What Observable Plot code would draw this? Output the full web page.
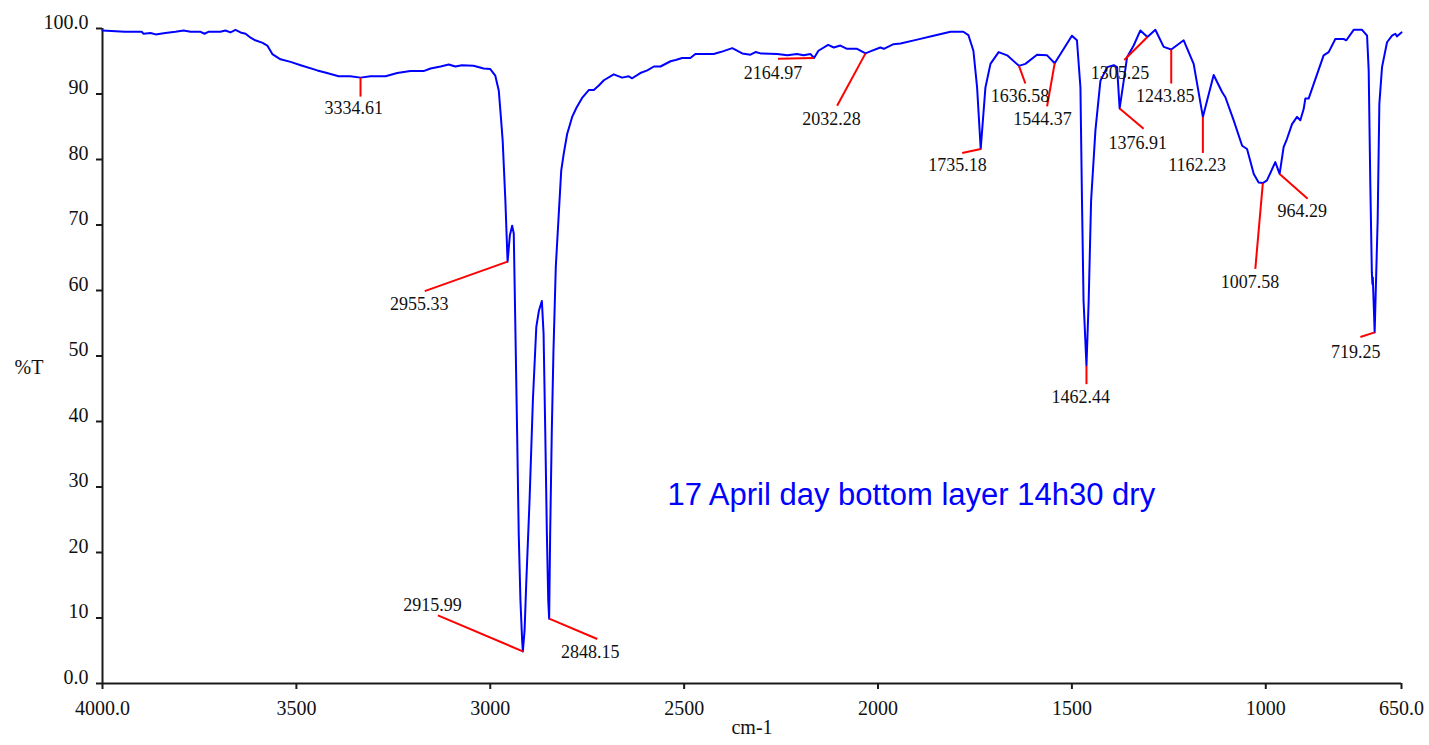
<!DOCTYPE html>
<html>
<head>
<meta charset="utf-8">
<script src="https://cdn.jsdelivr.net/npm/d3@7"></script>
<script src="https://cdn.jsdelivr.net/npm/@observablehq/plot@0.6"></script>
<style>
  html, body { margin: 0; padding: 0; background: #fff; }
</style>
</head>
<body>
<div id="chart"></div>
<script>
// FTIR spectrum: wavenumber (cm-1) and transmittance (%T)
const wavenumber = [
  4000, 3943, 3899, 3894, 3876, 3863, 3838, 3812, 3791, 3773, 3747, 3737, 3727, 3696, 3683, 3670, 3657, 3644, 3631, 3618,
  3606, 3587, 3575, 3562, 3541, 3515, 3489, 3446, 3421, 3391, 3361, 3334.61, 3309, 3270, 3240, 3206, 3172, 3154, 3128, 3107,
  3090, 3073, 3043, 3017, 3000, 2987, 2978, 2972, 2968, 2961, 2958, 2955.33, 2949.5, 2943.6, 2939.4, 2935, 2930.7, 2926.6, 2922.2, 2917.8,
  2915.99, 2911.5, 2907.2, 2898.7, 2890.1, 2881.3, 2874.6, 2866.9, 2862.5, 2858.1, 2854, 2850.5, 2848.15, 2845.5, 2841.4, 2837, 2831, 2824, 2817, 2810.5,
  2801.7, 2788.8, 2777.7, 2763.1, 2746, 2733, 2720, 2707, 2681.5, 2660, 2643, 2634, 2613, 2595, 2578, 2561, 2535, 2522, 2505, 2484,
  2471, 2458, 2424, 2406, 2376, 2350, 2329, 2316, 2303, 2260, 2234, 2209, 2192, 2174, 2164.97, 2153.7, 2128.7, 2114, 2097, 2080,
  2054, 2032.28, 2020, 1994, 1985, 1960, 1942, 1899, 1857, 1813, 1780, 1767, 1754, 1744.5, 1735.18, 1723, 1710, 1689, 1667, 1636.58,
  1620, 1590, 1564, 1544.37, 1500, 1487, 1478, 1474, 1470, 1462.44, 1456.7, 1450.5, 1439.4, 1426.5, 1409, 1392, 1383.5, 1376.91, 1366.4, 1357.8,
  1340.7, 1323.4, 1305.25, 1284.8, 1263.3, 1243.85, 1211.7, 1186, 1162.23, 1134.4, 1112.7, 1104.2, 1083, 1061, 1048.3, 1031, 1018.4, 1007.58, 997, 975.5,
  964.29, 954, 945, 932.3, 919.4, 910.9, 902.3, 898, 889.5, 876.6, 850.8, 837.8, 820.6, 799.1, 792.2, 773.3, 751.7, 738.8, 734.6, 730.3,
  726.5, 725, 724, 719.25, 711.5, 707.1, 700.2, 687.3, 674.4, 665.9, 661.5, 650
];
const transmittance = [
  99.7, 99.5, 99.5, 99.2, 99.3, 99.1, 99.3, 99.5, 99.7, 99.5, 99.5, 99.2, 99.5, 99.5, 99.7, 99.4, 99.8, 99.4, 99.2, 98.6,
  98.2, 97.8, 97.4, 96.1, 95.3, 94.9, 94.4, 93.6, 93.2, 92.7, 92.7, 92.5, 92.7, 92.7, 93.2, 93.5, 93.5, 93.9, 94.2, 94.5,
  94.2, 94.4, 94.3, 93.9, 93.8, 92.8, 90.5, 86.0, 82.9, 73.7, 68.7, 64.4, 68.4, 69.9, 68.7, 53.4, 38.2, 22.9, 12.7, 6.6,
  4.9, 8.1, 15.3, 27.9, 43.2, 54.4, 56.9, 58.4, 53.4, 38.2, 22.9, 12.7, 9.9, 22.9, 38.2, 50.8, 63.6, 71.0, 78.3, 80.9,
  83.9, 86.5, 87.9, 89.4, 90.6, 90.6, 91.3, 92.1, 93.0, 92.5, 92.7, 92.4, 93.2, 93.6, 94.2, 94.2, 95.0, 95.2, 95.5, 95.5,
  96.1, 96.1, 96.1, 96.4, 97.0, 96.2, 96.0, 96.4, 96.2, 96.1, 95.9, 96.1, 95.9, 96.1, 95.5, 96.6, 97.5, 97.1, 97.4, 96.9,
  96.9, 96.2, 96.5, 97.1, 96.9, 97.6, 97.7, 98.3, 98.9, 99.5, 99.5, 99.0, 96.6, 91.0, 81.6, 91.0, 94.6, 96.4, 95.9, 94.3,
  94.6, 96.0, 95.9, 94.7, 98.9, 98.2, 91.0, 73.7, 58.5, 48.5, 58.5, 73.7, 84.4, 92.0, 94.1, 94.4, 94.1, 87.8, 92.0, 95.6,
  97.4, 99.7, 98.7, 99.8, 97.2, 96.8, 98.2, 94.6, 86.5, 92.9, 90.3, 89.5, 86.0, 82.1, 81.6, 77.8, 76.5, 76.4, 76.8, 79.6,
  77.8, 81.9, 83.2, 85.4, 86.5, 86.0, 87.7, 89.3, 89.3, 91.5, 95.9, 96.4, 98.4, 98.4, 98.2, 99.8, 99.8, 98.9, 93.6, 75.8,
  62.8, 61.0, 62.0, 53.6, 70.7, 88.5, 94.1, 97.9, 98.9, 99.2, 98.8, 99.4
];

// Labelled peaks, with the end of each red leader and the centre of its label (data units)
const peakWavenumber = [3334.61, 2955.33, 2915.99, 2848.15, 2164.97, 2032.28, 1735.18, 1636.58, 1544.37, 1462.44, 1376.91, 1305.25, 1243.85, 1162.23, 1007.58, 964.29, 719.25];
const leaderEndWavenumber = [3334.61, 3169, 3135, 2724, 2258, 2105.5, 1783, 1620, 1564, 1462.44, 1315, 1365, 1243.85, 1162.23, 1027, 892, 756];
const leaderEndT = [89.6, 59.9, 10.4, 6.8, 95.4, 88.2, 81.0, 91.6, 88.1, 45.7, 84.7, 95.2, 91.6, 81.0, 63.3, 74.0, 52.9];
const labelWavenumber = [3352, 3183, 3149, 2742, 2271, 2120, 1795, 1634, 1576, 1477, 1330, 1376, 1259, 1177, 1041, 906, 768];
const labelT = [87.8, 57.9, 11.9, 4.8, 93.2, 86.1, 79.1, 89.6, 86.1, 43.7, 82.5, 93.2, 89.6, 79.1, 61.3, 72.1, 50.6];

// Axis ticks
const xTicks = [4000, 3500, 3000, 2500, 2000, 1500, 1000, 650];
const xTickLabels = ["4000.0", "3500", "3000", "2500", "2000", "1500", "1000", "650.0"];
const yTicks = [0, 10, 20, 30, 40, 50, 60, 70, 80, 90, 100];
const yTickLabels = ["0.0", "10", "20", "30", "40", "50", "60", "70", "80", "90", "100.0"];

const sampleTitle = "17 April day bottom layer 14h30 dry";
const titleWavenumber = 2543;
const titleT = 28.7;

const spectrum = wavenumber.map((wn, i) => ({wn, t: transmittance[i]}));
const peaks = peakWavenumber.map((wn, i) => ({
  wn,
  t: transmittance[wavenumber.indexOf(wn)],
  wn2: leaderEndWavenumber[i],
  t2: leaderEndT[i],
  lx: labelWavenumber[i],
  ly: labelT[i],
  label: wn.toFixed(2)
}));

const serif = "'Liberation Serif', 'Times New Roman', Times, serif";
const ink = "#111";

const chart = Plot.plot({
  width: 1429,
  height: 745,
  marginLeft: 102,
  marginRight: 28,
  marginTop: 28,
  marginBottom: 62,
  style: {fontFamily: serif, fontSize: "20px", color: "#1a1a1a", background: "#fff", overflow: "visible"},
  x: {domain: [4000, 650]},
  y: {domain: [0, 100]},
  marks: [
    // tick marks (labels drawn below as serif text)
    Plot.axisX({ticks: xTicks, tickFormat: () => "", tickSize: 6, strokeWidth: 2, label: null}),
    Plot.axisY({ticks: yTicks, tickFormat: () => "", tickSize: 6, strokeWidth: 2, label: null}),
    Plot.text(xTicks, {
      x: (d) => d, text: (d, i) => xTickLabels[i], frameAnchor: "bottom",
      lineAnchor: "top", textAnchor: "middle", dy: 17, fontSize: 20, fontFamily: serif, fill: ink
    }),
    Plot.text(yTicks, {
      y: (d) => d, text: (d, i) => yTickLabels[i], frameAnchor: "left",
      lineAnchor: "bottom", textAnchor: "end", dx: -14, dy: 0, fontSize: 20, fontFamily: serif, fill: ink
    }),
    Plot.ruleY([0], {strokeWidth: 2}),
    Plot.ruleX([4000], {strokeWidth: 2}),
    Plot.line(spectrum, {x: "wn", y: "t", stroke: "#0000ff", strokeWidth: 2}),
    Plot.link(peaks, {x1: "wn", y1: "t", x2: "wn2", y2: "t2", stroke: "#ff0000", strokeWidth: 2}),
    Plot.text(peaks, {x: "lx", y: "ly", text: "label", fontSize: 18, fontFamily: serif, fill: ink, textAnchor: "middle", lineAnchor: "middle"}),
    Plot.text([sampleTitle], {
      x: () => titleWavenumber, y: () => titleT, text: (d) => d,
      fill: "#0000ff", fontSize: 31, textAnchor: "start", lineAnchor: "middle",
      fontFamily: "'Liberation Sans', Arial, sans-serif"
    }),
    Plot.text(["%T"], {frameAnchor: "left", text: (d) => d, dx: -88, dy: 12, textAnchor: "start", fontSize: 20, fontFamily: serif, fill: ink}),
    Plot.text(["cm-1"], {frameAnchor: "bottom", text: (d) => d, dy: 50, textAnchor: "middle", fontSize: 20, fontFamily: serif, fill: ink})
  ]
});

document.getElementById("chart").append(chart);
</script>
</body>
</html>
